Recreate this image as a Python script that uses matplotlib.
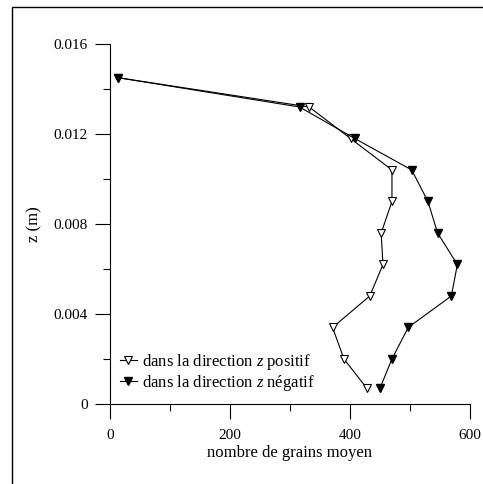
import matplotlib.pyplot as plt
from matplotlib.patches import Rectangle

plt.rcParams['font.family'] = ['Liberation Serif', 'DejaVu Serif']
plt.rcParams['mathtext.fontset'] = 'custom'
plt.rcParams['mathtext.it'] = 'Liberation Serif:italic'
plt.rcParams['mathtext.rm'] = 'Liberation Serif'

z = [0.0007, 0.0020, 0.0034, 0.0048, 0.0062, 0.0076, 0.0090, 0.0104, 0.0118, 0.0132, 0.0145]
grains_pos = [428, 390, 371, 433, 455, 452, 470, 470, 401, 332, 14]
grains_neg = [450, 470, 497, 569, 579, 546, 530, 503, 408, 316, 14]

fig = plt.figure(figsize=(4.83, 4.84), dpi=100)
ax = fig.add_axes([0.2277, 0.1653, 0.7453, 0.7438])

# outer frame of the original figure
fig.patches.append(Rectangle((12 / 483, -0.05), 1.2, 1 - 7 / 484 + 0.05,
                             transform=fig.transFigure, fill=False,
                             edgecolor='black', linewidth=1.0))

ax.plot(grains_pos, z, color='black', linewidth=0.8, marker='v', markersize=6,
        markerfacecolor='white', markeredgecolor='black', markeredgewidth=0.8,
        label='dans la direction $z$ positif')
ax.plot(grains_neg, z, color='black', linewidth=0.8, marker='v', markersize=6,
        markerfacecolor='black', markeredgecolor='black',
        label='dans la direction $z$ négatif')

ax.set_xlim(0, 600)
ax.set_ylim(0, 0.016)
ax.set_xticks([0, 200, 400, 600])
ax.set_xticks([100, 300, 500], minor=True)
ax.set_yticks([0, 0.004, 0.008, 0.012, 0.016])
ax.set_yticklabels(['0', '0.004', '0.008', '0.012', '0.016'])
ax.set_yticks([0.002, 0.006, 0.010, 0.014], minor=True)
ax.tick_params(which='major', length=11, width=0.8, labelsize=11)
ax.tick_params(which='minor', length=5, width=0.8)
ax.tick_params(axis='x', which='major', pad=7)
ax.tick_params(axis='y', which='major', pad=5)
for s in ['top', 'right']:
    ax.spines[s].set_visible(False)
for s in ['left', 'bottom']:
    ax.spines[s].set_linewidth(0.8)

ax.set_xlabel('nombre de grains moyen', fontsize=12, labelpad=2)
ax.set_ylabel('z (m)', fontsize=12, labelpad=8)

ax.legend(loc='lower left', frameon=False, fontsize=12, handlelength=1.0,
          handletextpad=0.35, borderaxespad=0.2, labelspacing=0.05,
          bbox_to_anchor=(0.0, 0.004))

fig.savefig('out.png', dpi=100)
